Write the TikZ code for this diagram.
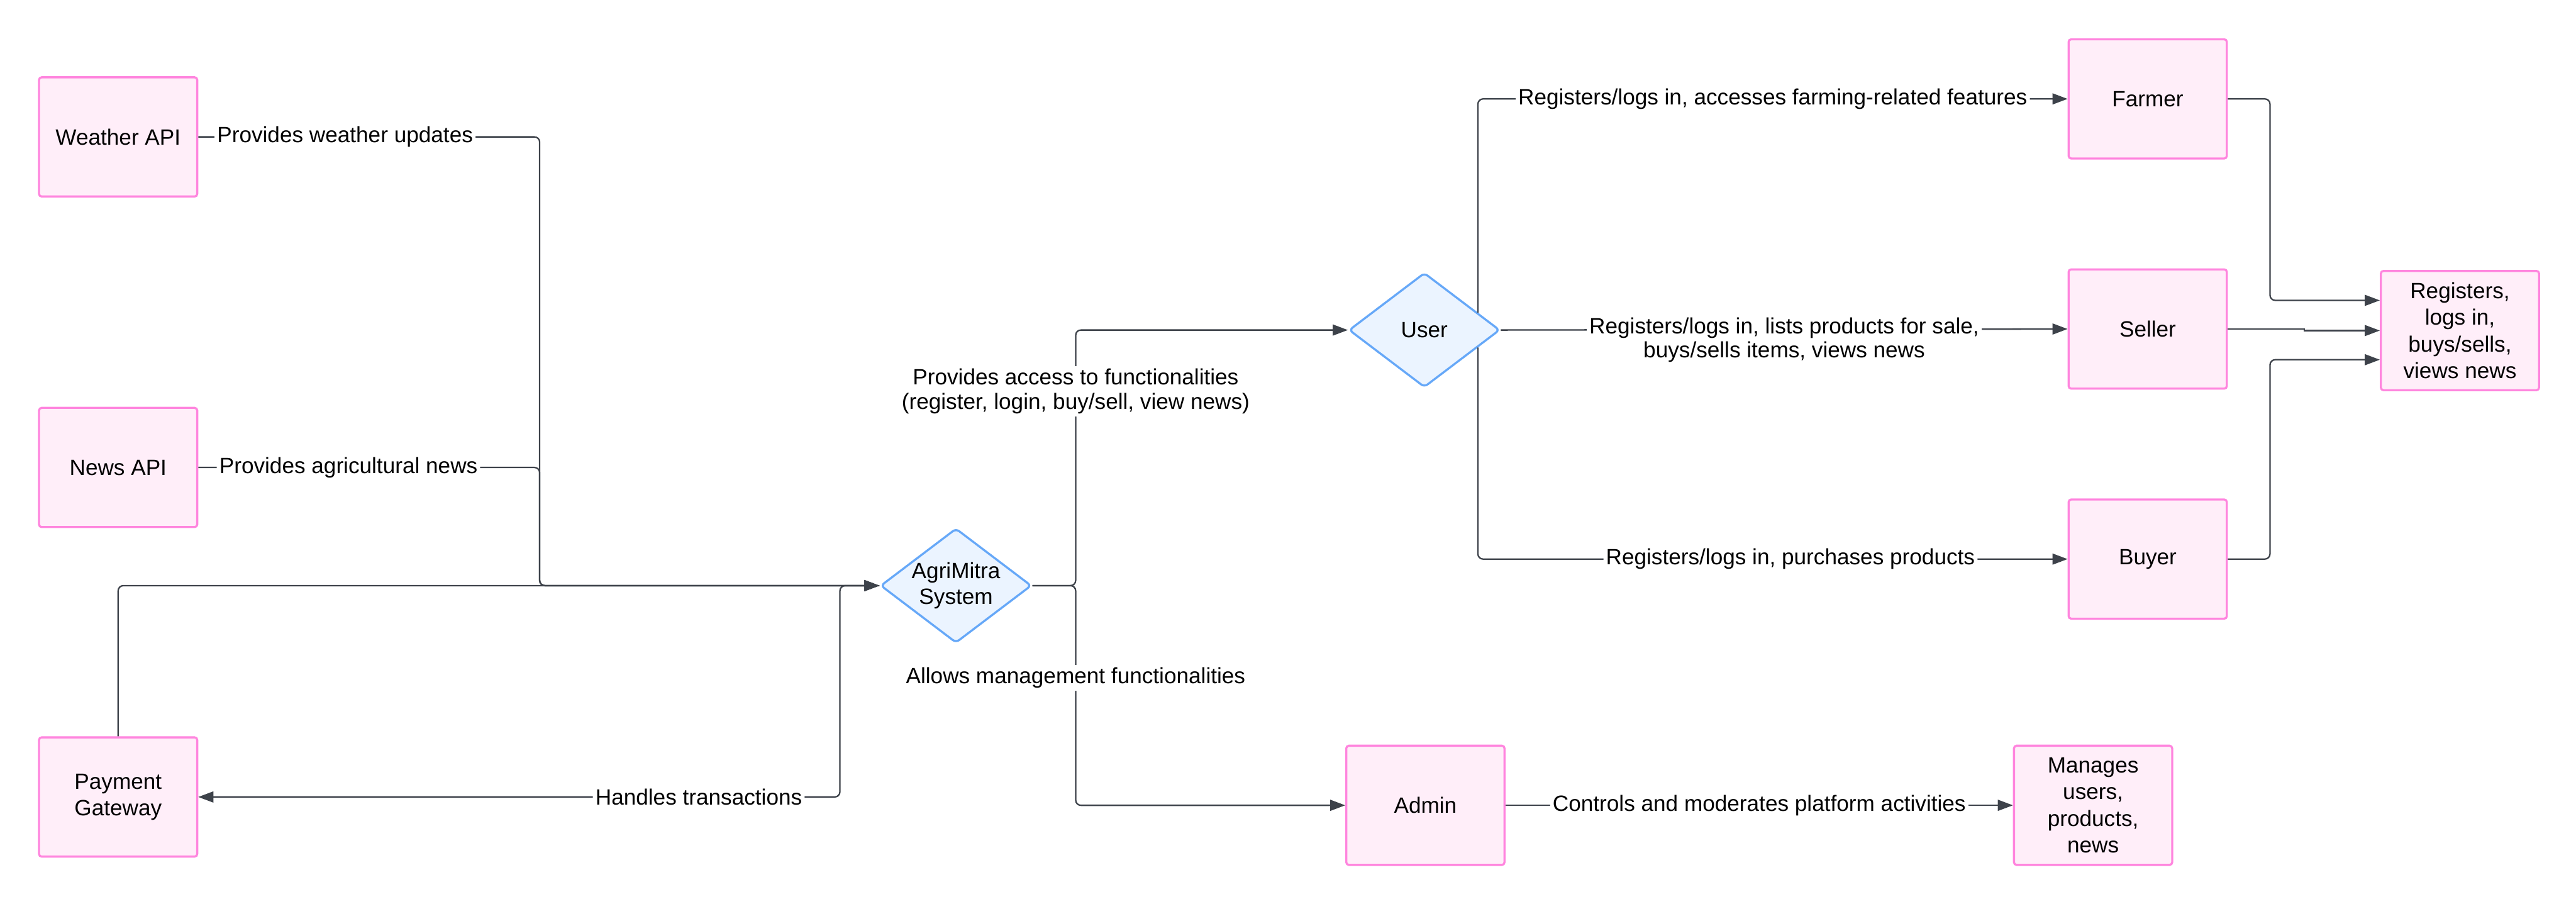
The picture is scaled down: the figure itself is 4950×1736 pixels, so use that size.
\documentclass[tikz,border=0pt]{standalone}
\usepackage{fontspec}
\setmainfont{Liberation Sans}
\usetikzlibrary{calc,positioning,arrows.meta,shapes.geometric}
\definecolor{boxpink}{HTML}{FF85DE}
\definecolor{boxfill}{HTML}{FFEEF9}
\definecolor{decblue}{HTML}{66A8F8}
\definecolor{decfill}{HTML}{EBF4FF}
\definecolor{edgegray}{HTML}{3D424A}
\begin{document}
\begin{tikzpicture}[x=0.2pt, y=-0.2pt,
  lbl/.style={fill=white, inner sep=1pt, align=center, font=\fontsize{8.5}{9.4}\selectfont},
  edge/.style={draw=edgegray, line width=0.55pt, rounded corners=2pt, -{Triangle[length=5.8pt,width=4.2pt]}}]
\tikzstyle{ent}=[rectangle, draw=boxpink, fill=boxfill, line width=0.8pt, rounded corners=1pt, minimum width=60.8pt, minimum height=45.8pt, align=center, font=\fontsize{8.5}{10.2}\selectfont]
\tikzstyle{dec}=[diamond, aspect=1.32, draw=decblue, fill=decfill, line width=0.8pt, rounded corners=1.5pt, minimum width=58pt, minimum height=44pt, inner sep=0pt, align=center, font=\fontsize{8.5}{10}\selectfont]
\useasboundingbox (0,0) rectangle (4950,1736);
% external services
\node[ent] (weather) at (227,263) {Weather API};
\node[ent] (news) at (227,898) {News API};
\node[ent] (pay) at (227,1531) {Payment\\Gateway};
% system and roles
\node[dec] (agri) at (1837,1125) {AgriMitra\\System};
\node[dec] (user) at (2737,634) {User};
\node[ent] (admin) at (2739,1547) {Admin};
\node[ent] (manage) at (4022,1547) {Manages\\users,\\products,\\news};
\node[ent] (farmer) at (4127,190) {Farmer};
\node[ent] (seller) at (4127,632) {Seller};
\node[ent] (buyer) at (4127,1074) {Buyer};
\node[ent] (results) at (4727,635) {Registers,\\logs in,\\buys/sells,\\views news};

\draw[edge] (weather.east) -- node[lbl,pos=.43]{Provides weather updates} ++(656,0) |- (agri.west);
\draw[edge] (news.east) -- node[lbl,pos=.44]{Provides agricultural news} ++(656,0) |- (agri.west);
\draw[edge] (pay.north) |- (agri.west);
\draw[edge] (agri.west) -- ++(-76,0) |- node[lbl,pos=.61]{Handles transactions} (pay.east);
\draw[edge] (agri.east) -- ++(83,0) |- node[lbl,pos=.38]{Provides access to functionalities\\(register, login, buy/sell, view news)} (user.west);
\draw[edge] (agri.east) -- ++(83,0) |- node[lbl,pos=.21]{Allows management functionalities} (admin.west);
\draw[edge] ($(user.north east)!0.4!(user.east)$) |- node[lbl,pos=.75]{Registers/logs in, accesses farming-related features} (farmer.west);
\draw[edge] (user.east) -- node[lbl,yshift=-4pt]{Registers/logs in, lists products for sale,\\buys/sells items, views news} (seller.west);
\draw[edge] ($(user.south east)!0.4!(user.east)$) |- node[lbl,pos=.765]{Registers/logs in, purchases products} (buyer.west);
\draw[edge] (admin.east) -- node[lbl]{Controls and moderates platform activities} (manage.west);
\draw[edge] (farmer.east) -- ++(81,0) |- ($(results.west)+(0,-58)$);
\draw[edge, sharp corners] (seller.east) -- ++(147,0) |- (results.west);
\draw[edge] (buyer.east) -- ++(81,0) |- ($(results.west)+(0,56)$);
\end{tikzpicture}
\end{document}
